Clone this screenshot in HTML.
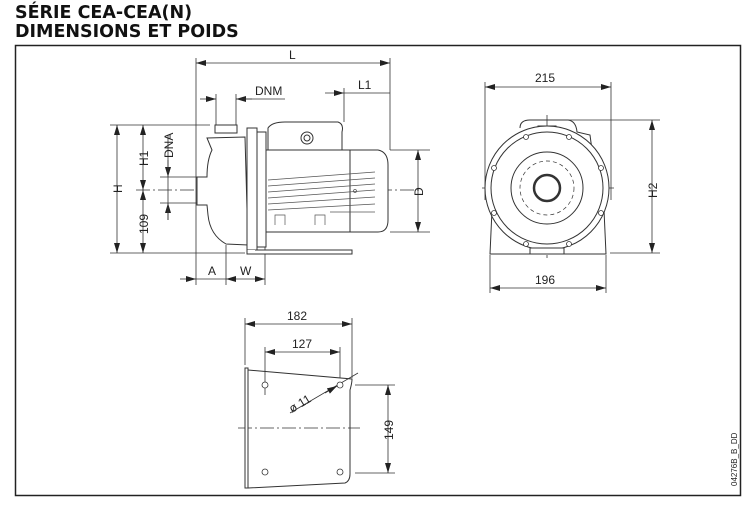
<!DOCTYPE html>
<html><head><meta charset="utf-8"><style>
html,body{margin:0;padding:0;background:#fff;}
svg{display:block;}
</style></head><body>
<svg width="749" height="509" viewBox="0 0 749 509" xmlns="http://www.w3.org/2000/svg" font-family="Liberation Sans, sans-serif">
<defs>
<marker id="a" viewBox="0 0 10 6" refX="10" refY="3" markerWidth="10" markerHeight="6" orient="auto-start-reverse" markerUnits="userSpaceOnUse"><path d="M0,0 L10,3 L0,6 z" fill="#222"/></marker>
</defs>
<text x="15" y="18" font-size="17.5" font-weight="bold" fill="#111" font-family="DejaVu Sans, sans-serif">SÉRIE CEA-CEA(N)</text>
<text x="15" y="37" font-size="17.5" font-weight="bold" fill="#111" font-family="DejaVu Sans, sans-serif">DIMENSIONS ET POIDS</text>
<rect x="15.5" y="45.5" width="725" height="450" fill="none" stroke="#222" stroke-width="1.5"/>

<g stroke="#333" stroke-width="0.8" fill="none">
<line x1="196" y1="58" x2="196" y2="285"/>
<line x1="390" y1="58" x2="390" y2="150"/>
<line x1="344" y1="88" x2="344" y2="122"/>
<line x1="216" y1="94" x2="216" y2="130"/>
<line x1="236" y1="94" x2="236" y2="130"/>
<line x1="110" y1="125" x2="210" y2="125"/>
<line x1="110" y1="253" x2="245" y2="253"/>
<line x1="136" y1="190" x2="420" y2="190" stroke-dasharray="14,3,2,3"/>
<line x1="160" y1="177" x2="198" y2="177"/>
<line x1="160" y1="203" x2="198" y2="203"/>
<line x1="226" y1="245" x2="226" y2="285"/>
<line x1="265" y1="240" x2="265" y2="285"/>
<line x1="390" y1="150" x2="430" y2="150"/>
<line x1="390" y1="232" x2="430" y2="232"/>
<line x1="196" y1="63" x2="390" y2="63" marker-start="url(#a)" marker-end="url(#a)"/>
<line x1="200" y1="99" x2="216" y2="99" marker-end="url(#a)"/>
<line x1="252" y1="99" x2="236" y2="99" marker-end="url(#a)"/>
<line x1="236" y1="99" x2="285" y2="99"/>
<line x1="325" y1="93" x2="344" y2="93" marker-end="url(#a)"/>
<line x1="344" y1="93" x2="390" y2="93"/>
<line x1="117" y1="125" x2="117" y2="253" marker-start="url(#a)" marker-end="url(#a)"/>
<line x1="143" y1="125" x2="143" y2="190" marker-start="url(#a)" marker-end="url(#a)"/>
<line x1="143" y1="190" x2="143" y2="253" marker-start="url(#a)" marker-end="url(#a)"/>
<line x1="168" y1="160" x2="168" y2="177" marker-end="url(#a)"/>
<line x1="168" y1="220" x2="168" y2="203" marker-end="url(#a)"/>
<line x1="168" y1="135" x2="168" y2="220"/>
<line x1="418" y1="150" x2="418" y2="232" marker-start="url(#a)" marker-end="url(#a)"/>
<line x1="180" y1="279" x2="196" y2="279" marker-end="url(#a)"/>
<line x1="196" y1="279" x2="226" y2="279"/>
<line x1="226" y1="279" x2="265" y2="279" marker-start="url(#a)" marker-end="url(#a)"/>
</g>
<g font-size="12" fill="#222">
<text x="289" y="59">L</text>
<text x="255" y="95">DNM</text>
<text x="358" y="89">L1</text>
<text x="208" y="275">A</text>
<text x="240" y="275">W</text>
<text transform="translate(122,193) rotate(-90)">H</text>
<text transform="translate(148,166) rotate(-90)">H1</text>
<text transform="translate(148,234) rotate(-90)">109</text>
<text transform="translate(173,158) rotate(-90)">DNA</text>
<text transform="translate(423,196) rotate(-90)">D</text>
</g>

<g stroke="#333" stroke-width="1" fill="#fff">
<rect x="215" y="125" width="22" height="8"/>
<path d="M207,138 L245,137 L248,245 L226,244 Q210,235 208,215 L207,205 L197,205 L197,177 L207,177 Q207,160 212,150 Z"/>
<rect x="247" y="128" width="10" height="122"/>
<rect x="257" y="132" width="9" height="115"/>
<path d="M268,150 L268,128 Q272,122 285,122 L338,122 Q344,124 342,132 L342,150"/>
<circle cx="307" cy="138" r="6"/>
<circle cx="307" cy="138" r="3"/>
<rect x="266" y="150" width="84" height="82"/>
<path d="M350,150 L378,150 Q388,152 388,165 L388,220 Q388,232 378,232 L350,232 Z"/>
<path d="M247,250 L247,254 L352,254 L352,250 L255,250"/>
</g>
<g stroke="#555" stroke-width="0.7" fill="none">
<path d="M268,180 L375,172 M268,186 L375,178 M268,192 L375,184 M268,198 L375,190 M268,204 L375,197 M268,210 L375,204 M330,212 L375,212"/>
<path d="M275,225 L275,215 L285,215 L285,225 M315,225 L315,215 L325,215 L325,225"/>
<circle cx="355" cy="191" r="1.5"/>
</g>

<g stroke="#333" stroke-width="0.8" fill="none">
<line x1="485" y1="82" x2="485" y2="200"/>
<line x1="611" y1="82" x2="611" y2="200"/>
<line x1="485" y1="87" x2="611" y2="87" marker-start="url(#a)" marker-end="url(#a)"/>
<line x1="550" y1="120" x2="660" y2="120"/>
<line x1="610" y1="253" x2="660" y2="253"/>
<line x1="652" y1="120" x2="652" y2="253" marker-start="url(#a)" marker-end="url(#a)"/>
<line x1="490" y1="255" x2="490" y2="293"/>
<line x1="606" y1="255" x2="606" y2="293"/>
<line x1="490" y1="288" x2="606" y2="288" marker-start="url(#a)" marker-end="url(#a)"/>
<line x1="547" y1="115" x2="547" y2="258" stroke-dasharray="12,3,2,3"/>
<line x1="482" y1="188" x2="615" y2="188" stroke-dasharray="12,3,2,3"/>
</g>
<g font-size="12" fill="#222">
<text x="535" y="82">215</text>
<text x="535" y="284">196</text>
<text transform="translate(657,198) rotate(-90)">H2</text>
</g>
<g stroke="#333" stroke-width="1" fill="none">
<path d="M520,128 Q520,120 530,120 L568,120 Q576,121 577,132 L590,135 L592,150"/>
<rect x="538" y="126" width="18" height="14" fill="#fff"/>
<path d="M492,210 L490,254 L606,254 L604,210"/>
<circle cx="547" cy="188" r="62" fill="#fff"/>
<circle cx="547" cy="188" r="56"/>
<circle cx="547" cy="188" r="36"/>
<circle cx="547" cy="188" r="13" stroke-width="2.5"/>
<circle cx="547" cy="188" r="27" stroke-dasharray="4,3" stroke-width="0.7"/>
<rect x="530" y="248" width="34" height="6" fill="#fff"/>
</g>
<g fill="#fff" stroke="#333" stroke-width="0.8">
<circle cx="526" cy="137" r="2.5"/><circle cx="569" cy="137" r="2.5"/>
<circle cx="494" cy="168" r="2.5"/><circle cx="601" cy="168" r="2.5"/>
<circle cx="494" cy="213" r="2.5"/><circle cx="601" cy="213" r="2.5"/>
<circle cx="526" cy="244" r="2.5"/><circle cx="569" cy="244" r="2.5"/>
</g>

<g stroke="#333" stroke-width="0.8" fill="none">
<line x1="245" y1="318" x2="245" y2="365"/>
<line x1="352" y1="318" x2="352" y2="378"/>
<line x1="245" y1="324" x2="352" y2="324" marker-start="url(#a)" marker-end="url(#a)"/>
<line x1="265" y1="347" x2="265" y2="395"/>
<line x1="340" y1="347" x2="340" y2="378"/>
<line x1="265" y1="352" x2="340" y2="352" marker-start="url(#a)" marker-end="url(#a)"/>
<line x1="355" y1="385" x2="395" y2="385"/>
<line x1="355" y1="473" x2="395" y2="473"/>
<line x1="388" y1="385" x2="388" y2="473" marker-start="url(#a)" marker-end="url(#a)"/>
<line x1="238" y1="428" x2="360" y2="428" stroke-dasharray="14,3,2,3"/>
<line x1="290" y1="413" x2="358" y2="373"/>
<line x1="325" y1="393" x2="337" y2="386" marker-end="url(#a)"/>
</g>
<g stroke="#333" stroke-width="1" fill="none">
<rect x="245" y="368" width="3" height="120" fill="#fff"/>
<path d="M248,370 L352,379 Q352,383 350,390 L350,474 Q350,481 345,483 L248,488"/>
</g>
<g fill="#fff" stroke="#333" stroke-width="0.8">
<circle cx="265" cy="385" r="3"/><circle cx="340" cy="385" r="3"/>
<circle cx="265" cy="472" r="3"/><circle cx="340" cy="472" r="3"/>
</g>
<g font-size="12" fill="#222">
<text x="287" y="320">182</text>
<text x="292" y="348">127</text>
<text transform="translate(393,440) rotate(-90)">149</text>
<text transform="translate(292,413) rotate(-31)">ø 11</text>
</g>
<text transform="translate(737,486) rotate(-90)" font-size="8" fill="#222">04276B_B_DD</text>
</svg>
</body></html>
